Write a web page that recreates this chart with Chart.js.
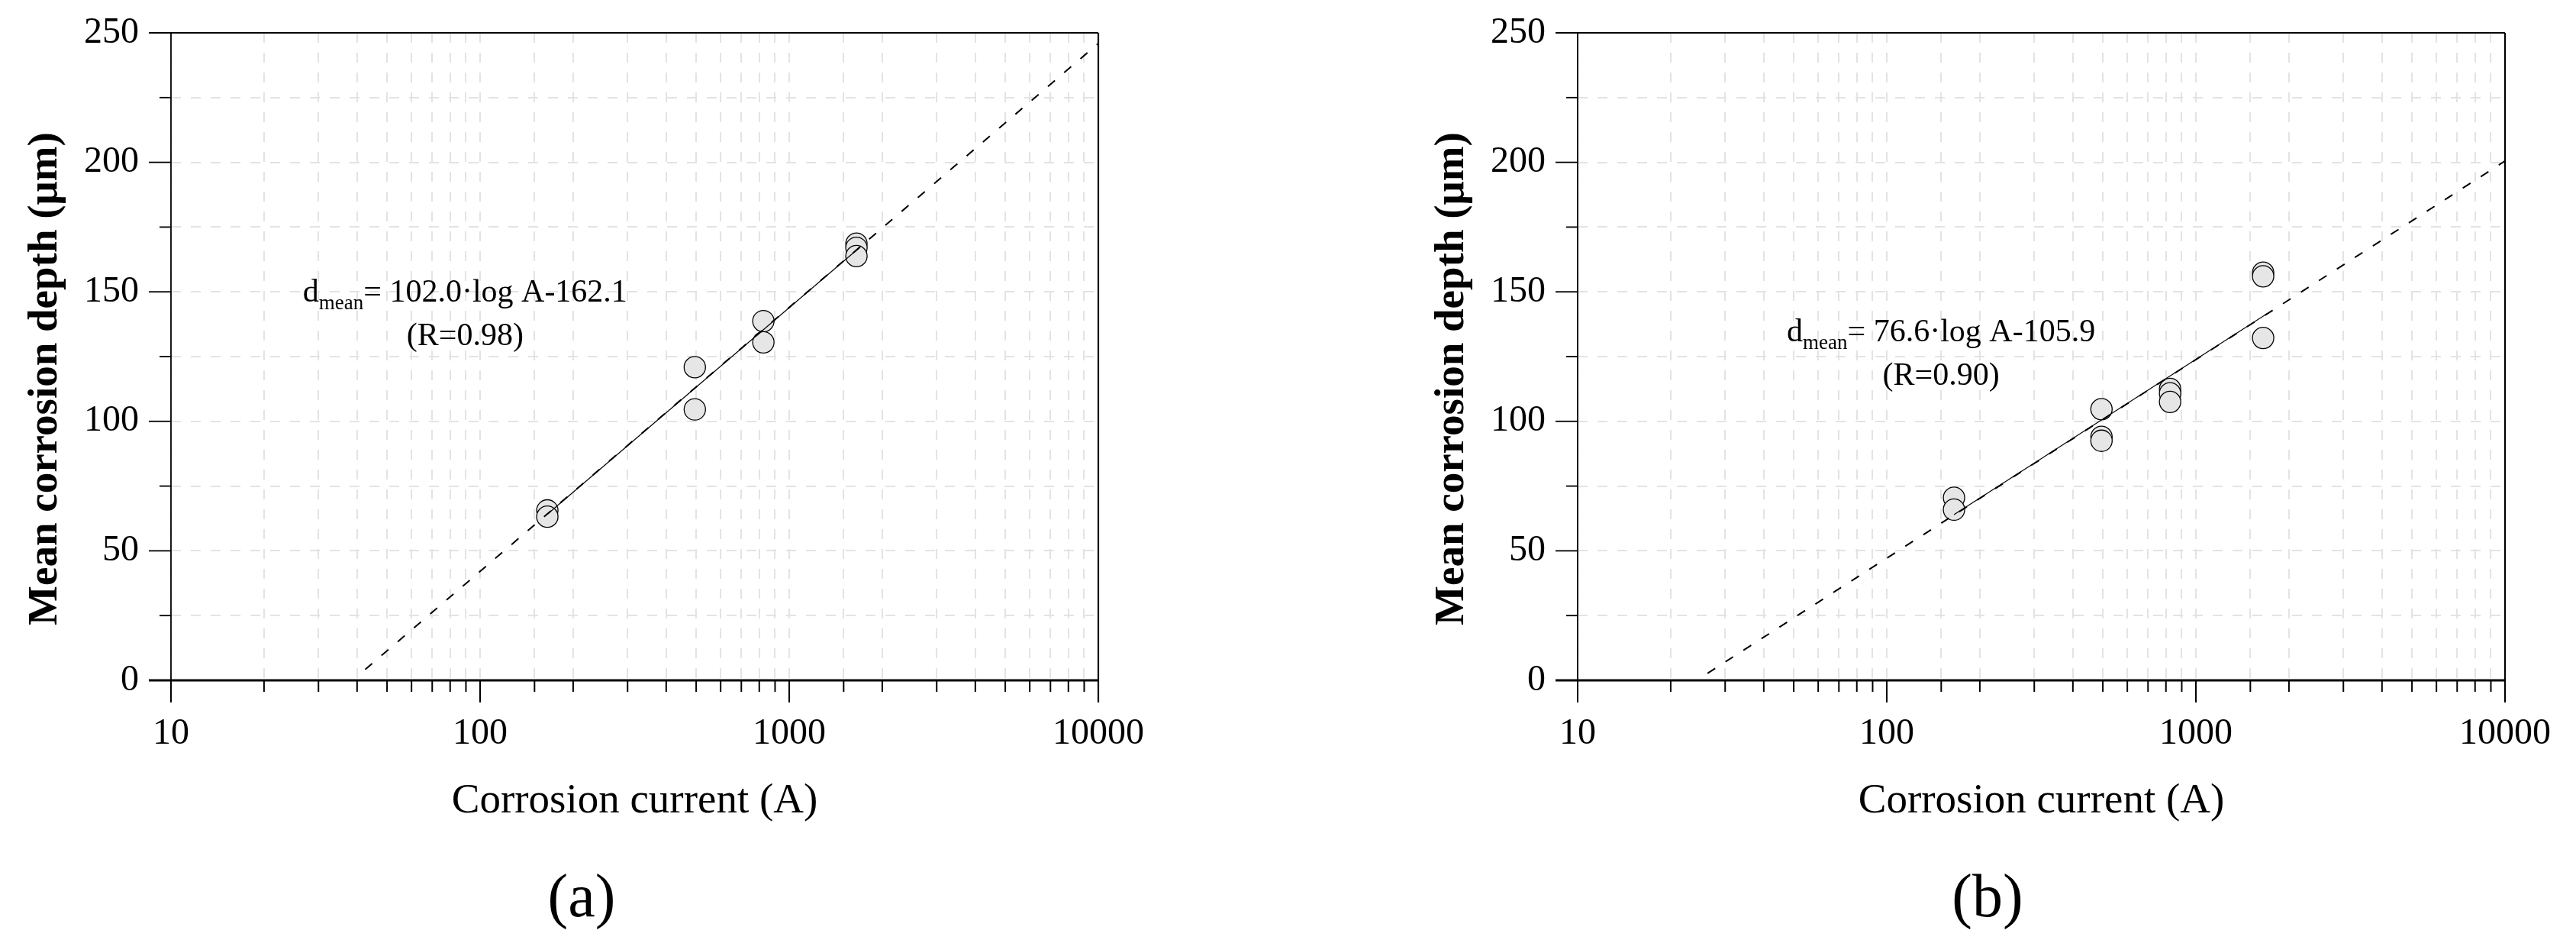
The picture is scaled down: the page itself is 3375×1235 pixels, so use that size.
<!DOCTYPE html>
<html>
<head>
<meta charset="utf-8">
<script src="https://cdn.jsdelivr.net/npm/chart.js@4.4.1/dist/chart.umd.min.js"></script>
<style>
  html, body { margin: 0; padding: 0; background: #fff; }
  body { width: 3375px; height: 1235px; position: relative; overflow: hidden; }
  .panel { position: absolute; top: 0; width: 1519px; height: 1235px; }
  .caption {
    position: absolute; top: 1173px; transform: translate(-50%, -50%);
    font: 80px "Liberation Serif", "Times New Roman", serif; color: #000; white-space: nowrap;
  }
</style>
</head>
<body>
<div class="panel" style="left:0"><canvas id="chartA"></canvas></div>
<div class="panel" style="left:1843px"><canvas id="chartB"></canvas></div>
<div class="caption" style="left:762px">(a)</div>
<div class="caption" style="left:2604px">(b)</div>
<script>
  const X_MIN = 10;
  const X_MAX = 10000;
  const Y_MIN = 0;
  const Y_MAX = 250;
  const Y_STEP = 25;
  const xTickLabels = ['10', '100', '1000', '10000'];
  const yTickLabels = ['0', '50', '100', '150', '200', '250'];

  const xTitle = 'Corrosion current (A)';
  const yTitle = 'Mean corrosion depth (μm)';

  // panel (a)
  const currentA = [165, 165, 495, 495, 825, 825, 1650, 1650, 1650];
  const depthA = [65.6, 63.2, 120.9, 104.6, 138.7, 130.5, 168.6, 167.0, 163.8];
  const fitDashXA = [42.5, 10000];
  const fitDashYA = [4.2, 245.9];
  const fitSolidXA = [165, 1700];
  const fitSolidYA = [64.1, 167.4];
  const eqA = { rest: '= 102.0·log A-162.1', r: '(R=0.98)', x: 26.7, y: 146.2 };

  // panel (b)
  const currentB = [165, 165, 495, 495, 495, 825, 825, 825, 1650, 1650, 1650];
  const depthB = [70.5, 65.9, 104.7, 94.0, 92.5, 112.5, 110.8, 107.5, 157.4, 156.0, 132.2];
  const fitDashXB = [26.3, 10000];
  const fitDashYB = [2.7, 200.5];
  const fitSolidXB = [165, 1700];
  const fitSolidYB = [64.0, 141.6];
  const eqB = { rest: '= 76.6·log A-105.9', r: '(R=0.90)', x: 47.5, y: 130.9 };

  const FONT = '"Liberation Serif", "Times New Roman", serif';
  Chart.defaults.font.family = FONT;
  Chart.defaults.color = '#000';

  const pairs = (xs, ys) => xs.map((x, i) => ({ x, y: ys[i] }));

  const framePlugin = {
    id: 'frame',
    afterDraw(chart) {
      const { ctx, chartArea: a, scales: { x, y } } = chart;
      const major = 29;
      const minor = 15;
      ctx.save();
      ctx.strokeStyle = '#000';
      ctx.lineCap = 'butt';

      const line = (x1, y1, x2, y2, w) => {
        ctx.lineWidth = w;
        ctx.beginPath();
        ctx.moveTo(x1, y1);
        ctx.lineTo(x2, y2);
        ctx.stroke();
      };

      // x ticks (downwards)
      x.ticks.forEach((t) => {
        const px = x.getPixelForValue(t.value);
        const len = xTickLabels.includes(String(t.value)) ? major : minor;
        line(px, a.bottom, px, a.bottom + len, 2);
      });
      // y ticks (leftwards)
      y.ticks.forEach((t) => {
        const py = y.getPixelForValue(t.value);
        const len = yTickLabels.includes(String(t.value)) ? major : minor;
        line(a.left - len, py, a.left, py, 1.8);
      });

      line(a.left, a.top, a.left, a.bottom + major, 1.8);
      line(a.right, a.top, a.right, a.bottom + major, 2.2);
      line(a.left - major, a.top, a.right, a.top, 1.8);
      line(a.left - major, a.bottom, a.right, a.bottom, 2.8);

      // y title, sits a little below the middle of the axis like the original
      ctx.translate(a.left - 164, (a.top + a.bottom) / 2 + 29);
      ctx.rotate(-Math.PI / 2);
      ctx.fillStyle = '#000';
      ctx.font = `bold 55px ${FONT}`;
      ctx.textAlign = 'center';
      ctx.textBaseline = 'middle';
      ctx.fillText(yTitle, 0, 0);
      ctx.restore();
    },
  };

  const equationPlugin = {
    id: 'equation',
    afterDatasetsDraw(chart, args, opts) {
      const { ctx, scales: { x, y } } = chart;
      const px = x.getPixelForValue(opts.x);
      const py = y.getPixelForValue(opts.y);
      const main = `42px ${FONT}`;
      const sub = `27px ${FONT}`;
      ctx.save();
      ctx.fillStyle = '#000';
      ctx.textBaseline = 'alphabetic';
      ctx.textAlign = 'left';
      ctx.font = main;
      const wD = ctx.measureText('d').width;
      const wRest = ctx.measureText(opts.rest).width;
      ctx.font = sub;
      const wSub = ctx.measureText('mean').width;
      ctx.font = main;
      ctx.fillText('d', px, py);
      ctx.font = sub;
      ctx.fillText('mean', px + wD, py + 10);
      ctx.font = main;
      ctx.fillText(opts.rest, px + wD + wSub, py);
      ctx.textAlign = 'center';
      ctx.fillText(opts.r, px + (wD + wSub + wRest) / 2, py + 57);
      ctx.restore();
    },
  };

  function makeChart(id, xs, ys, dashX, dashY, solidX, solidY, eq) {
    return new Chart(document.getElementById(id), {
      type: 'scatter',
      data: {
        datasets: [
          {
            label: 'fit (extrapolated)',
            data: pairs(dashX, dashY),
            showLine: true,
            borderColor: '#000',
            borderWidth: 2,
            borderDash: [12, 16],
            pointRadius: 0,
          },
          {
            label: 'fit',
            data: pairs(solidX, solidY),
            showLine: true,
            borderColor: '#000',
            borderWidth: 1.2,
            pointRadius: 0,
          },
          {
            label: 'measured',
            data: pairs(xs, ys),
            pointRadius: 14,
            pointBackgroundColor: '#e6e6e6',
            pointBorderColor: '#000',
            pointBorderWidth: 1.3,
          },
        ],
      },
      options: {
        responsive: true,
        maintainAspectRatio: false,
        animation: false,
        events: [],
        layout: { padding: { left: 0, right: 80, top: 43, bottom: 144 } },
        plugins: {
          legend: { display: false },
          tooltip: { enabled: false },
          equation: eq,
        },
        scales: {
          x: {
            type: 'logarithmic',
            min: X_MIN,
            max: X_MAX,
            afterFit(scale) {
              scale.height = 200;
              scale.paddingLeft = 0;
              scale.paddingRight = 0;
            },
            border: { display: false, dash: [13, 13] },
            grid: { color: '#e3e3e3', lineWidth: 2, drawTicks: false },
            ticks: {
              autoSkip: false,
              maxRotation: 0,
              minRotation: 0,
              padding: 42,
              font: { size: 48 },
              color: '#000',
              callback(value) {
                return xTickLabels.includes(String(value)) ? String(value) : '';
              },
            },
            title: {
              display: true,
              text: xTitle,
              font: { size: 55 },
              color: '#000',
              padding: { top: 0, bottom: 8 },
            },
          },
          y: {
            min: Y_MIN,
            max: Y_MAX,
            afterFit(scale) {
              scale.width = 224;
              scale.paddingTop = 0;
              scale.paddingBottom = 0;
            },
            border: { display: false, dash: [13, 13] },
            grid: { color: '#e3e3e3', lineWidth: 2, drawTicks: false },
            ticks: {
              stepSize: Y_STEP,
              padding: 42,
              font: { size: 48 },
              color: '#000',
              callback(value) {
                return yTickLabels.includes(String(value)) ? String(value) : '';
              },
            },
          },
        },
      },
      plugins: [framePlugin, equationPlugin],
    });
  }

  makeChart('chartA', currentA, depthA, fitDashXA, fitDashYA, fitSolidXA, fitSolidYA, eqA);
  makeChart('chartB', currentB, depthB, fitDashXB, fitDashYB, fitSolidXB, fitSolidYB, eqB);
</script>
</body>
</html>
